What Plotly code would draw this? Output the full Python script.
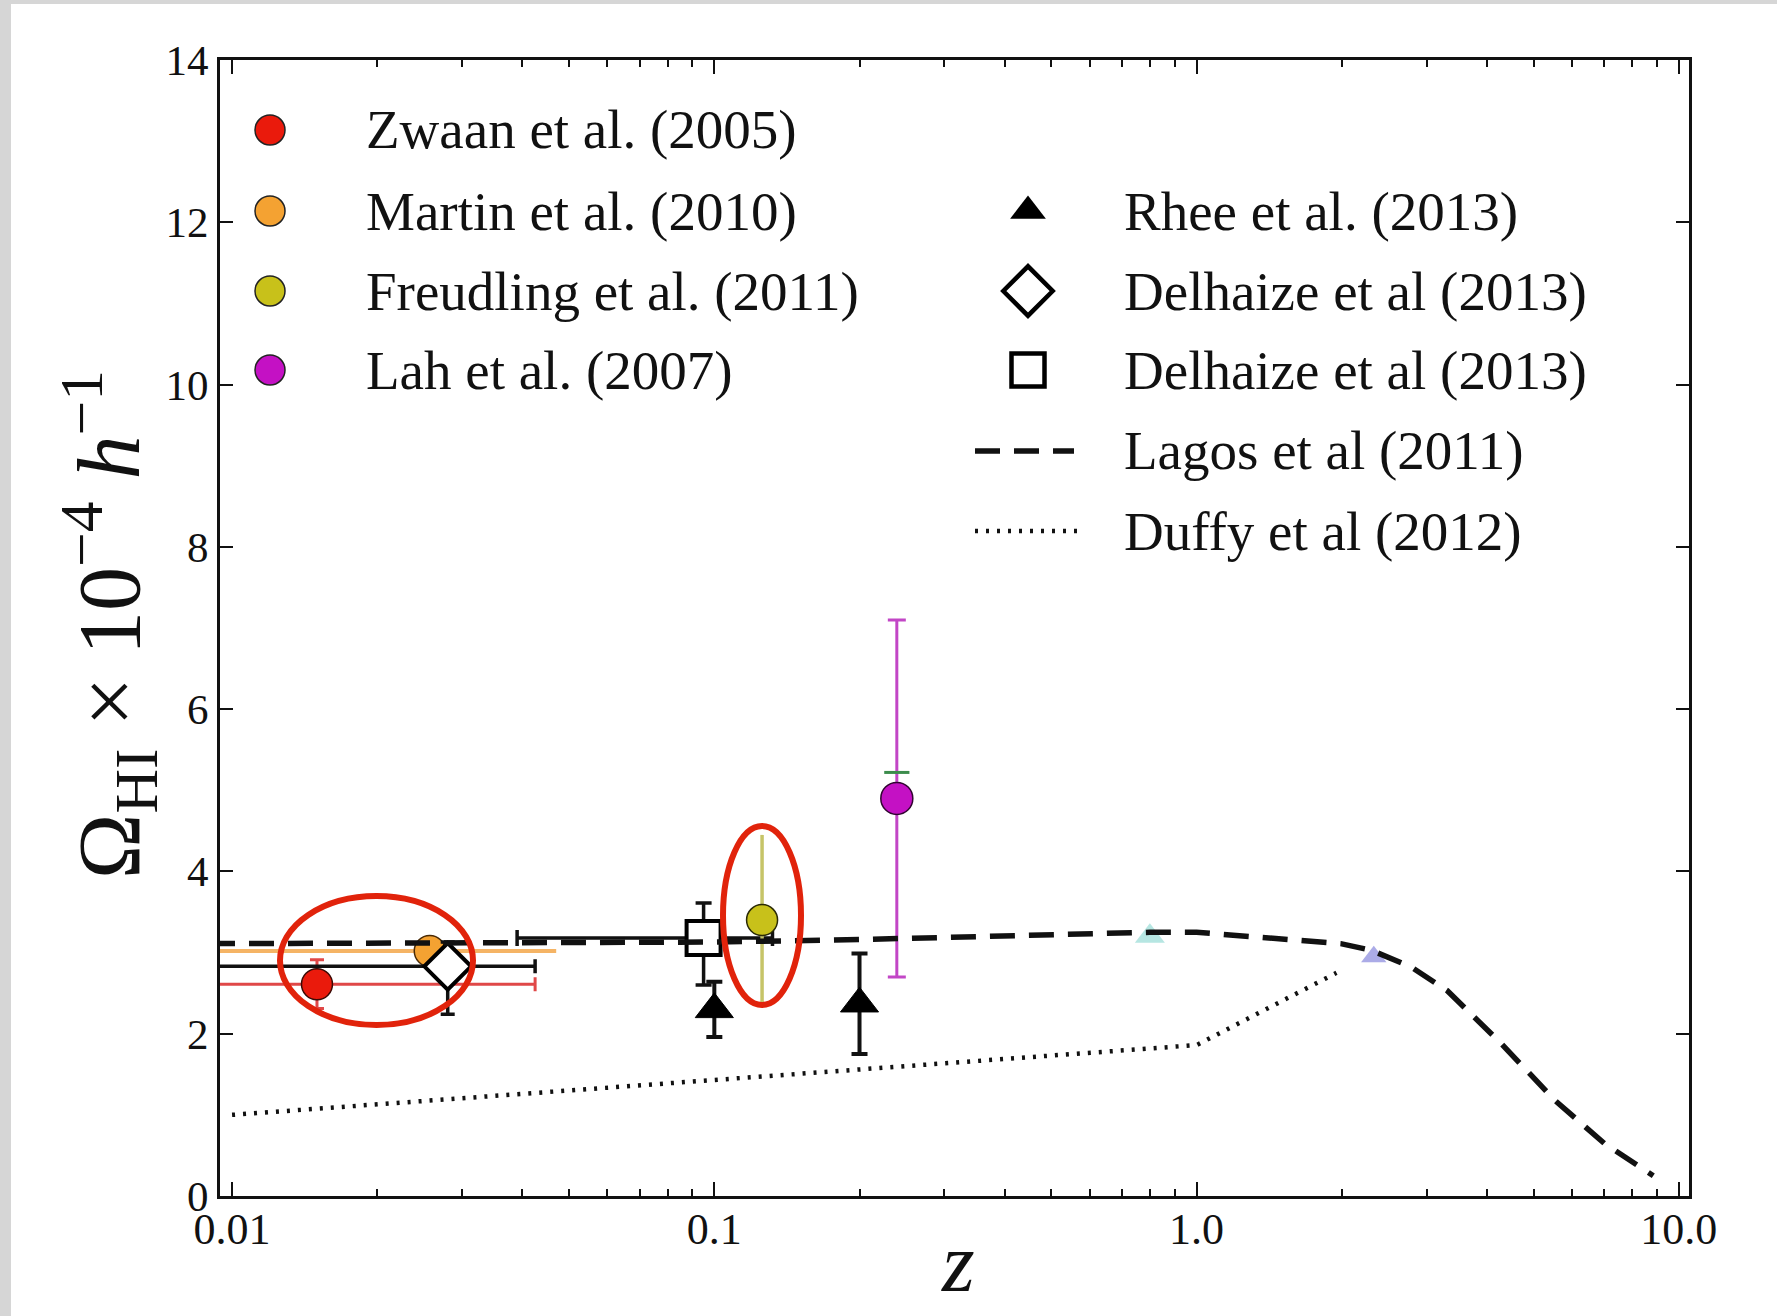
import plotly.graph_objects as go

# ---------------- data ----------------
# Zwaan et al. (2005)
zwaan_z = [0.015]
zwaan_om = [2.61]
zwaan_err = [0.30]
zwaan_zlo = [0.001]
zwaan_zhi = [0.0425]

# Martin et al. (2010)
martin_z = [0.0257]
martin_om = [3.02]
martin_zlo = [0.001]
martin_zhi = [0.047]

# Freudling et al. (2011)
freud_z = [0.1256]
freud_om = [3.40]
freud_err = [1.05]

# Lah et al. (2007)
lah_z = [0.239]
lah_om = [4.90]
lah_err = [2.20]

# Rhee et al. (2013)
rhee_z = [0.10, 0.20]
rhee_om = [2.30, 2.37]
rhee_err = [0.34, 0.62]

# Delhaize et al (2013), diamond
delh1_z = [0.028]
delh1_om = [2.83]
delh1_errp = [0.30]
delh1_errm = [0.59]
delh1_zlo = [0.001]
delh1_zhi = [0.0425]

# Delhaize et al (2013), square
delh2_z = [0.095]
delh2_om = [3.18]
delh2_errp = [0.43]
delh2_errm = [0.58]
delh2_zlo = [0.039]
delh2_zhi = [0.132]

# Lagos et al (2011) model
lagos_z = [0.009, 0.1, 0.2, 0.41, 0.8, 1.0, 1.54, 1.99, 2.3, 2.79, 3.31, 4.28, 5.53, 7.0, 8.85]
lagos_om = [3.11, 3.13, 3.16, 3.21, 3.25, 3.25, 3.17, 3.11, 3.03, 2.82, 2.53, 1.88, 1.18, 0.65, 0.25]

# Duffy et al (2012) model
duffy_z = [0.01, 1.0, 1.95]
duffy_om = [1.0, 1.86, 2.75]

# faint overlaid symbols
faint_tri_z = [0.8]
faint_tri_om = [3.20]
faint_blue_z = [2.33]
faint_blue_om = [2.95]
green_cap_z = [0.239]
green_cap_om = [5.22]

x_tickvals = [0.01, 0.1, 1.0, 10.0]
x_ticktext = ["0.01", "0.1", "1.0", "10.0"]

legend_left = ["Zwaan et al. (2005)", "Martin et al. (2010)",
               "Freudling et al. (2011)", "Lah et al. (2007)"]
legend_right = ["Rhee et al. (2013)", "Delhaize et al (2013)",
                "Delhaize et al (2013)", "Lagos et al (2011)", "Duffy et al (2012)"]

# ---------------- layout geometry (pixels) ----------------
W, H = 1777, 1316
PL, PR, PT, PB = 220, 1689, 60, 1196
FONT = "Liberation Serif"


def px(xp):
    return (xp - PL) / (PR - PL)


def py(yp):
    return (PB - yp) / (PB - PT)


def minus(vals, lo):
    return [v - l for v, l in zip(vals, lo)]


def plus(vals, hi):
    return [h - v for v, h in zip(vals, hi)]


RED = "#ea1a0c"
ORANGE = "#f4a232"
OLIVE = "#c8c11a"
MAGENTA = "#c411c4"
DASH = "25px,14px"
DOT = "3px,8px"

fig = go.Figure()

# Duffy model (dotted)
fig.add_trace(go.Scatter(x=duffy_z, y=duffy_om, mode="lines",
                         line=dict(color="#111", width=4.5, dash=DOT)))

# Zwaan
fig.add_trace(go.Scatter(
    x=zwaan_z, y=zwaan_om, mode="markers",
    marker=dict(size=31, color=RED, line=dict(color="#3a0a05", width=1.5)),
    error_y=dict(type="data", array=zwaan_err, color="#e04848", thickness=3, width=7),
    error_x=dict(type="data", array=plus(zwaan_z, zwaan_zhi),
                 arrayminus=minus(zwaan_z, zwaan_zlo), color="#e04848", thickness=3, width=7)))

# Martin
fig.add_trace(go.Scatter(
    x=martin_z, y=martin_om, mode="markers",
    marker=dict(size=31, color=ORANGE, line=dict(color="#4a2a05", width=1.5)),
    error_x=dict(type="data", array=plus(martin_z, martin_zhi),
                 arrayminus=minus(martin_z, martin_zlo), color="#f5b465", thickness=4, width=0)))

# Delhaize diamond
fig.add_trace(go.Scatter(
    x=delh1_z, y=delh1_om, mode="markers",
    marker=dict(size=36, symbol="diamond", color="white", line=dict(color="black", width=4)),
    error_y=dict(type="data", array=delh1_errp, arrayminus=delh1_errm,
                 color="#111", thickness=3.5, width=7),
    error_x=dict(type="data", array=plus(delh1_z, delh1_zhi),
                 arrayminus=minus(delh1_z, delh1_zlo), color="#111", thickness=3.5, width=7)))

# Delhaize square
fig.add_trace(go.Scatter(
    x=delh2_z, y=delh2_om, mode="markers",
    marker=dict(size=34, symbol="square", color="white", line=dict(color="black", width=4)),
    error_y=dict(type="data", array=delh2_errp, arrayminus=delh2_errm,
                 color="#111", thickness=3.5, width=8),
    error_x=dict(type="data", array=plus(delh2_z, delh2_zhi),
                 arrayminus=minus(delh2_z, delh2_zlo), color="#111", thickness=3.5, width=8)))

# Rhee
fig.add_trace(go.Scatter(
    x=rhee_z, y=rhee_om, mode="markers",
    marker=dict(size=33, symbol="triangle-up", color="black", line=dict(color="black", width=1)),
    error_y=dict(type="data", array=rhee_err, color="#111", thickness=4, width=8)))

# Freudling
fig.add_trace(go.Scatter(
    x=freud_z, y=freud_om, mode="markers",
    marker=dict(size=31, color=OLIVE, line=dict(color="#2a2a05", width=1.5)),
    error_y=dict(type="data", array=freud_err, color="#c6c468", thickness=3.5, width=0)))

# Lah
fig.add_trace(go.Scatter(
    x=lah_z, y=lah_om, mode="markers",
    marker=dict(size=32, color=MAGENTA, line=dict(color="#300530", width=1.5)),
    error_y=dict(type="data", array=lah_err, color="#c246c6", thickness=3, width=9)))

# faint overlaid symbols
fig.add_trace(go.Scatter(x=green_cap_z, y=green_cap_om, mode="markers",
                         marker=dict(symbol="line-ew", size=18, line=dict(color="#3c8c4c", width=3))))
fig.add_trace(go.Scatter(x=faint_tri_z, y=faint_tri_om, mode="markers", opacity=0.45,
                         marker=dict(symbol="triangle-up", size=26, color="#5fc8c0")))
fig.add_trace(go.Scatter(x=faint_blue_z, y=faint_blue_om, mode="markers", opacity=0.5,
                         marker=dict(symbol="triangle-up", size=22, color="#5a5ad0")))

# Lagos model (dashed)
fig.add_trace(go.Scatter(x=lagos_z, y=lagos_om, mode="lines",
                         line=dict(color="#111", width=5.5, dash=DASH)))

# ---------------- legend glyphs on an overlay axis in paper units ----------------
left_rows = [130, 211, 291, 370]
right_rows = [211, 291, 370, 451, 531]
left_colors = [RED, ORANGE, OLIVE, MAGENTA]

fig.add_trace(go.Scatter(
    x=[px(270)] * 4, y=[py(r) for r in left_rows], mode="markers",
    xaxis="x2", yaxis="y2",
    marker=dict(size=30, color=left_colors, line=dict(color="#222", width=1.5))))
fig.add_trace(go.Scatter(
    x=[px(1028)], y=[py(right_rows[0])], mode="markers", xaxis="x2", yaxis="y2",
    marker=dict(size=31, symbol="triangle-up", color="black")))
fig.add_trace(go.Scatter(
    x=[px(1028)], y=[py(right_rows[1])], mode="markers", xaxis="x2", yaxis="y2",
    marker=dict(size=38, symbol="diamond", color="white", line=dict(color="black", width=4.5))))
fig.add_trace(go.Scatter(
    x=[px(1028)], y=[py(right_rows[2])], mode="markers", xaxis="x2", yaxis="y2",
    marker=dict(size=33, symbol="square", color="white", line=dict(color="black", width=4.5))))
fig.add_trace(go.Scatter(
    x=[px(975), px(1074)], y=[py(right_rows[3])] * 2, mode="lines", xaxis="x2", yaxis="y2",
    line=dict(color="#111", width=5.5, dash=DASH)))
fig.add_trace(go.Scatter(
    x=[px(975), px(1082)], y=[py(right_rows[4])] * 2, mode="lines", xaxis="x2", yaxis="y2",
    line=dict(color="#111", width=4.5, dash=DOT)))

annotations = []
for txt, r in zip(legend_left, left_rows):
    annotations.append(dict(text=txt, x=px(364), y=py(r), xref="paper", yref="paper",
                            xanchor="left", yanchor="middle", showarrow=False,
                            font=dict(family=FONT, size=55, color="#111")))
for txt, r in zip(legend_right, right_rows):
    annotations.append(dict(text=txt, x=px(1122), y=py(r), xref="paper", yref="paper",
                            xanchor="left", yanchor="middle", showarrow=False,
                            font=dict(family=FONT, size=55, color="#111")))

# axis titles
annotations.append(dict(
    text="Ω<sub>HI</sub> × 10<sup>−4</sup> <i>h</i><sup>−1</sup>",
    x=px(108), y=py(625), xref="paper", yref="paper", textangle=-90,
    xanchor="center", yanchor="middle", showarrow=False,
    font=dict(family=FONT, size=88, color="#111")))
annotations.append(dict(
    text="<i>z</i>", x=px(958), y=py(1262), xref="paper", yref="paper",
    xanchor="center", yanchor="middle", showarrow=False,
    font=dict(family=FONT, size=84, color="#111")))

shapes = [
    # highlight ellipses
    dict(type="circle", xref="paper", yref="paper",
         x0=px(280), x1=px(473), y0=py(1025), y1=py(896),
         line=dict(color="#e1230b", width=6)),
    dict(type="circle", xref="paper", yref="paper",
         x0=px(723), x1=px(801), y0=py(1005), y1=py(826),
         line=dict(color="#e1230b", width=6)),
    # grey page edges
    dict(type="rect", xref="paper", yref="paper", layer="below",
         x0=px(0), x1=px(11), y0=py(H), y1=py(0),
         fillcolor="#d6d6d6", line=dict(width=0)),
    dict(type="rect", xref="paper", yref="paper", layer="below",
         x0=px(0), x1=px(W), y0=py(4), y1=py(0),
         fillcolor="#d6d6d6", line=dict(width=0)),
]

minor_vals = [m * d for d in (0.01, 0.1, 1.0) for m in range(2, 10)]

fig.update_layout(
    width=W, height=H,
    margin=dict(l=PL, r=W - PR, t=PT, b=H - PB),
    paper_bgcolor="white", plot_bgcolor="white",
    showlegend=False,
    font=dict(family=FONT, color="#111"),
    annotations=annotations, shapes=shapes,
    xaxis=dict(type="log", range=[-2.025, 1.021],
               tickvals=x_tickvals, ticktext=x_ticktext,
               ticks="inside", ticklen=14, tickwidth=2, tickcolor="#111",
               showline=True, linewidth=3, linecolor="#111", mirror="allticks",
               showgrid=False, zeroline=False, ticklabelstandoff=-8,
               minor=dict(tickvals=minor_vals, ticks="inside", ticklen=7,
                          tickwidth=1.5, tickcolor="#111", showgrid=False),
               tickfont=dict(family=FONT, size=44, color="#111")),
    yaxis=dict(range=[0, 14], tickvals=[0, 2, 4, 6, 8, 10, 12, 14],
               ticks="inside", ticklen=13, tickwidth=2, tickcolor="#111",
               showline=True, linewidth=3, linecolor="#111", mirror="allticks",
               showgrid=False, zeroline=False,
               tickfont=dict(family=FONT, size=43, color="#111")),
    xaxis2=dict(overlaying="x", range=[0, 1], visible=False, fixedrange=True),
    yaxis2=dict(overlaying="y", range=[0, 1], visible=False, fixedrange=True),
)

fig.write_html("out.html")
